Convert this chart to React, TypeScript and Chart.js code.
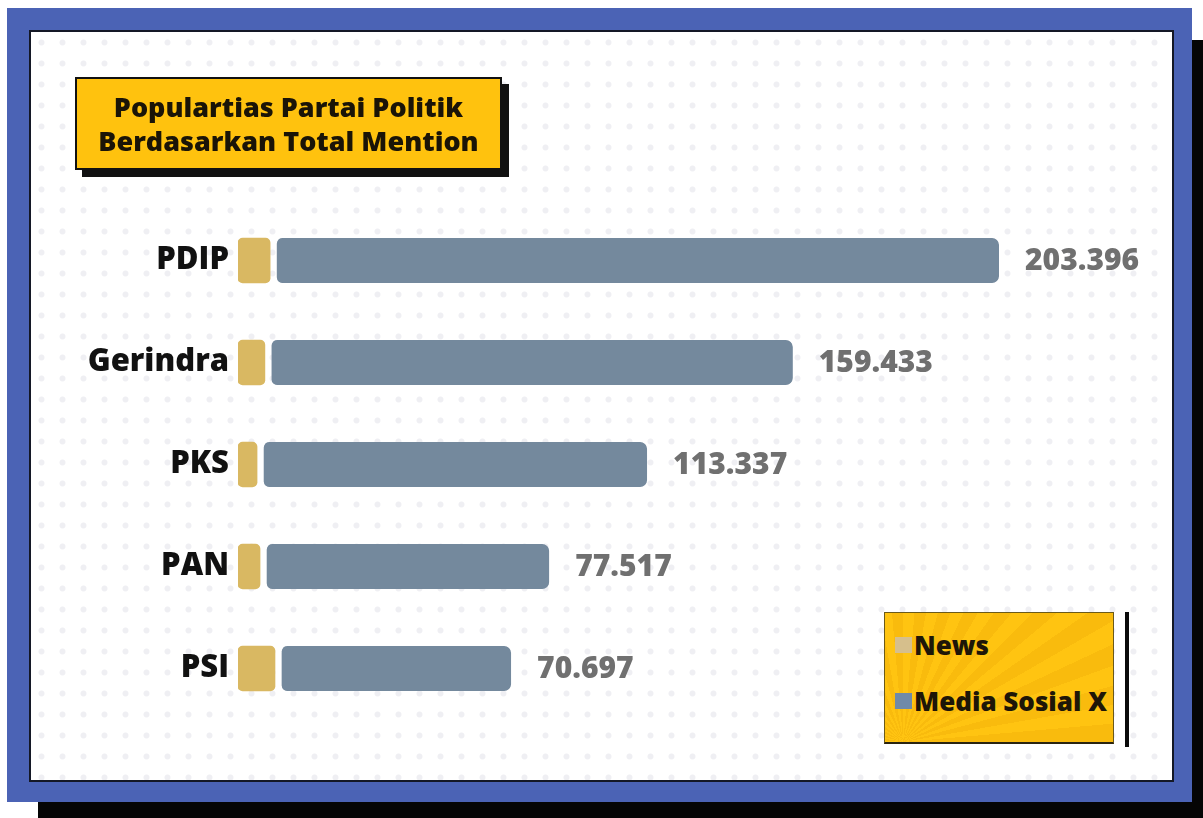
import React, { useEffect, useRef } from "react";
import { Chart, registerables } from "chart.js";

Chart.register(...registerables);

const categories = ["PDIP", "Gerindra", "PKS", "PAN", "PSI"];
const newsValues = [8600, 7200, 5100, 5900, 9900];
const mediaSosialValues = [195100, 141300, 104400, 77400, 63200];
const totalLabels = ["203.396", "159.433", "113.337", "77.517", "70.697"];
const seriesNames = ["News", "Media Sosial X"];
const seriesColors = ["#d9b862", "#74899d"];
const legendColors = ["#d6bf8c", "#6f8aa8"];
const titleLines = ["Populartias Partai Politik", "Berdasarkan Total Mention"];

const FONT = '"Open Sans", "DejaVu Sans", sans-serif';

const valueLabelPlugin = {
  id: "valueLabels",
  afterDatasetsDraw(chart: any) {
    const ctx = chart.ctx;
    const meta = chart.getDatasetMeta(1);
    ctx.save();
    ctx.font = `800 30px ${FONT}`;
    ctx.fillStyle = "#707070";
    ctx.textAlign = "left";
    ctx.textBaseline = "middle";
    meta.data.forEach((el: any, i: number) => {
      ctx.fillText(totalLabels[i], el.x + 26, el.y + 1);
    });
    ctx.restore();
  },
};

export default function App() {
  const canvasRef = useRef<HTMLCanvasElement | null>(null);

  useEffect(() => {
    if (!canvasRef.current) return;
    const chart = new Chart(canvasRef.current, {
      type: "bar",
      data: {
        labels: categories,
        datasets: [
          {
            label: seriesNames[0],
            data: newsValues,
            backgroundColor: seriesColors[0],
            borderSkipped: false,
            borderRadius: { topLeft: 5, bottomLeft: 5, topRight: 5, bottomRight: 5 },
            barThickness: 45,
          },
          {
            label: seriesNames[1],
            data: mediaSosialValues,
            backgroundColor: seriesColors[1],
            borderColor: "rgba(0,0,0,0)",
            borderWidth: { left: 7, top: 0, right: 0, bottom: 0 },
            borderSkipped: false,
            borderRadius: { topLeft: 13, bottomLeft: 13, topRight: 7, bottomRight: 7 },
            barThickness: 45,
          },
        ],
      },
      options: {
        indexAxis: "y",
        animation: false,
        responsive: true,
        maintainAspectRatio: false,
        layout: { padding: { top: 177.5, bottom: 60.5, left: 0, right: 0 } },
        plugins: {
          legend: { display: false },
          tooltip: { enabled: false },
        },
        scales: {
          x: {
            stacked: true,
            display: false,
            min: 0,
            max: 250000,
          },
          y: {
            stacked: true,
            grid: { display: false, drawTicks: false },
            border: { display: false },
            ticks: {
              color: "#111111",
              font: { family: FONT, size: 31, weight: 800 },
              padding: 9,
            },
            afterFit(scale: any) {
              scale.width = 207;
            },
          },
        },
      } as any,
      plugins: [valueLabelPlugin],
    });
    return () => chart.destroy();
  }, []);

  return (
    <div style={{ position: "absolute", left: 0, top: 0, width: 1203, height: 818, overflow: "hidden", background: "#ffffff", fontFamily: FONT }}>
      <div style={{ position: "absolute", left: 38, top: 40, width: 1203, height: 800, background: "#050505" }} />
      <div style={{ position: "absolute", left: 7, top: 8, width: 1185, height: 794, background: "#4b63b5" }} />
      <div
        style={{
          position: "absolute",
          left: 29,
          top: 30,
          width: 1145,
          height: 752,
          boxSizing: "border-box",
          border: "2px solid #141826",
          backgroundColor: "#ffffff",
          backgroundImage: "radial-gradient(circle, #efeff3 2.6px, rgba(255,255,255,0) 3.4px)",
          backgroundSize: "21px 21px",
        }}
      >
        <div style={{ position: "absolute", left: 0, top: 0, width: 1141, height: 748 }}>
          <canvas ref={canvasRef} />
        </div>
        <div
          style={{
            position: "absolute",
            left: 44,
            top: 45,
            width: 427,
            height: 93,
            boxSizing: "border-box",
            background: "#ffc20e",
            border: "2px solid #111",
            boxShadow: "7px 7px 0 #111",
            display: "flex",
            flexDirection: "column",
            justifyContent: "center",
            alignItems: "center",
            fontWeight: 800,
            fontSize: 27,
            lineHeight: "34px",
            color: "#1a1407",
          }}
        >
          {titleLines.map((t) => (
            <div key={t}>{t}</div>
          ))}
        </div>
        <div
          style={{
            position: "absolute",
            left: 853,
            top: 580,
            width: 230,
            height: 132,
            boxSizing: "border-box",
            border: "1px solid #6b5a1a",
            borderBottom: "2px solid #2a2410",
            backgroundColor: "#ffc20e",
            backgroundImage:
              "repeating-conic-gradient(from 0deg at 8% 100%, #ffc411 0deg 5deg, #f9bb0d 5deg 10deg)",
          }}
        >
          {seriesNames.map((name, i) => (
            <div
              key={name}
              style={{
                position: "absolute",
                left: 10,
                top: i === 0 ? 17 : 73,
                display: "flex",
                alignItems: "center",
                fontWeight: 800,
                fontSize: 26,
                color: "#1e1608",
                lineHeight: "30px",
                whiteSpace: "nowrap",
              }}
            >
              <span style={{ display: "inline-block", width: 17, height: 16, background: legendColors[i], marginRight: 2 }} />
              {name}
            </div>
          ))}
        </div>
        <div style={{ position: "absolute", left: 1094, top: 580, width: 4, height: 135, background: "#0a0a0a" }} />
      </div>
    </div>
  );
}
